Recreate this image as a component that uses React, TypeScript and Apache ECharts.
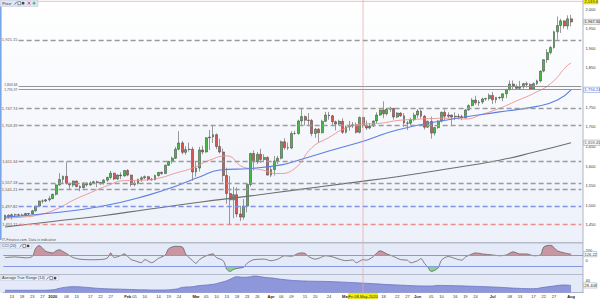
import React, { useEffect, useRef } from 'react';
import * as echarts from 'echarts';

const FONT = '"Liberation Sans", Arial, sans-serif';

// ---------- calendar (weekdays, market closed days removed) ----------
const closedDays = ['2019-12-25', '2020-01-01'];
const SLOT_COUNT = 170;
function buildCategories(): string[] {
  const out: string[] = [];
  const d = new Date(Date.UTC(2019, 11, 11));
  while (out.length < SLOT_COUNT) {
    const wd = d.getUTCDay();
    const s = d.toISOString().slice(0, 10);
    if (wd !== 0 && wd !== 6 && closedDays.indexOf(s) < 0) out.push(s);
    d.setUTCDate(d.getUTCDate() + 1);
  }
  return out;
}
const categories = buildCategories();

// ---------- daily candles [open, close, low, high] ----------
const dec2019 = [
  [1464, 1475, 1461, 1476], [1475, 1470, 1466, 1477], [1470, 1476, 1464, 1479], [1476, 1476, 1472, 1479],
  [1476, 1475, 1472, 1479], [1475, 1475, 1473, 1479], [1475, 1479, 1472, 1481], [1479, 1478, 1475, 1481],
  [1478, 1486, 1477, 1488], [1486, 1498, 1484, 1499], [1498, 1511, 1497, 1512], [1511, 1511, 1505, 1515],
  [1511, 1514, 1508, 1516], [1514, 1517, 1510, 1524],
];
const jan2020 = [
  [1517, 1528, 1516, 1530], [1528, 1552, 1525, 1554], [1552, 1566, 1550, 1582], [1566, 1574, 1557, 1576],
  [1574, 1556, 1553, 1611], [1556, 1552, 1540, 1557], [1552, 1562, 1547, 1563], [1562, 1548, 1546, 1563],
  [1548, 1545, 1536, 1551], [1545, 1557, 1543, 1559], [1557, 1552, 1548, 1558], [1552, 1557, 1550, 1561],
  [1557, 1560, 1555, 1563], [1560, 1558, 1546, 1563], [1558, 1557, 1552, 1560], [1557, 1564, 1553, 1567],
  [1564, 1571, 1560, 1573], [1571, 1582, 1566, 1588], [1582, 1567, 1564, 1583], [1567, 1577, 1565, 1579],
  [1577, 1575, 1567, 1584], [1575, 1589, 1573, 1590],
];
const feb2020 = [
  [1589, 1577, 1574, 1592], [1577, 1553, 1548, 1578], [1553, 1556, 1548, 1562], [1556, 1566, 1553, 1568],
  [1566, 1570, 1560, 1574], [1570, 1573, 1567, 1576], [1573, 1566, 1562, 1575], [1566, 1565, 1563, 1570],
  [1565, 1576, 1564, 1578], [1576, 1584, 1573, 1585], [1584, 1581, 1578, 1586], [1581, 1602, 1580, 1604],
  [1602, 1612, 1600, 1613], [1612, 1620, 1606, 1624], [1620, 1643, 1618, 1649], [1643, 1659, 1640, 1689],
  [1659, 1635, 1630, 1664], [1635, 1642, 1629, 1651], [1642, 1643, 1637, 1660], [1643, 1585, 1563, 1649],
];
const mar2020 = [
  [1585, 1595, 1573, 1611], [1595, 1641, 1586, 1649], [1641, 1636, 1630, 1652], [1636, 1672, 1634, 1674],
  [1672, 1674, 1641, 1692], [1674, 1680, 1659, 1703], [1680, 1650, 1643, 1683], [1650, 1636, 1632, 1670],
  [1636, 1576, 1560, 1645], [1576, 1530, 1504, 1596], [1530, 1514, 1451, 1575], [1514, 1527, 1467, 1547],
  [1527, 1478, 1470, 1546], [1478, 1470, 1460, 1499], [1470, 1498, 1464, 1516], [1498, 1553, 1482, 1555],
  [1553, 1632, 1548, 1634], [1632, 1611, 1589, 1640], [1611, 1630, 1605, 1636], [1630, 1617, 1608, 1644],
  [1617, 1622, 1611, 1630], [1622, 1577, 1576, 1625],
];
const apr2020 = [
  [1577, 1591, 1572, 1600], [1591, 1613, 1576, 1626], [1613, 1620, 1605, 1626], [1620, 1662, 1617, 1665],
  [1662, 1647, 1642, 1671], [1647, 1646, 1641, 1660], [1646, 1683, 1643, 1689], [1683, 1683, 1680, 1690],
  [1683, 1715, 1680, 1718], [1715, 1726, 1705, 1747], [1726, 1717, 1703, 1729], [1717, 1716, 1705, 1735],
  [1716, 1683, 1676, 1720], [1683, 1694, 1672, 1697], [1694, 1685, 1660, 1697], [1685, 1714, 1683, 1718],
  [1714, 1730, 1712, 1738], [1730, 1728, 1718, 1738], [1728, 1713, 1702, 1730], [1713, 1707, 1691, 1716],
  [1707, 1714, 1704, 1718], [1714, 1686, 1682, 1722],
];
const may2020 = [
  [1686, 1700, 1683, 1703], [1700, 1702, 1690, 1715], [1702, 1705, 1697, 1712], [1705, 1686, 1683, 1711],
  [1686, 1724, 1683, 1726], [1724, 1703, 1697, 1725], [1703, 1697, 1692, 1716], [1697, 1702, 1694, 1710],
  [1702, 1715, 1700, 1716], [1715, 1730, 1709, 1737], [1730, 1743, 1728, 1744], [1743, 1733, 1722, 1765],
  [1733, 1745, 1729, 1748], [1745, 1747, 1738, 1751], [1747, 1725, 1718, 1748], [1725, 1735, 1722, 1737],
  [1735, 1728, 1725, 1737], [1728, 1710, 1700, 1735], [1710, 1709, 1692, 1715], [1709, 1718, 1704, 1723],
  [1718, 1730, 1714, 1736],
];
const jun2020 = [
  [1730, 1740, 1723, 1745], [1740, 1727, 1722, 1744], [1727, 1699, 1693, 1730], [1699, 1714, 1698, 1716],
  [1714, 1684, 1670, 1726], [1684, 1698, 1678, 1700], [1698, 1715, 1695, 1717], [1715, 1737, 1711, 1739],
  [1737, 1727, 1717, 1744], [1727, 1730, 1722, 1737], [1730, 1725, 1705, 1731], [1725, 1727, 1717, 1737],
  [1727, 1726, 1719, 1733], [1726, 1723, 1717, 1731], [1723, 1743, 1721, 1745], [1743, 1754, 1741, 1757],
  [1754, 1768, 1752, 1773], [1768, 1761, 1756, 1779], [1761, 1763, 1753, 1768], [1763, 1771, 1758, 1774],
  [1771, 1772, 1766, 1774], [1772, 1780, 1767, 1785],
];
const jul2020 = [
  [1780, 1769, 1758, 1789], [1769, 1775, 1760, 1776], [1775, 1774, 1770, 1777], [1774, 1784, 1765, 1785],
  [1784, 1795, 1773, 1797], [1795, 1809, 1792, 1818], [1809, 1803, 1795, 1818], [1803, 1798, 1796, 1808],
  [1798, 1802, 1794, 1817], [1802, 1810, 1797, 1812], [1810, 1808, 1800, 1815], [1808, 1796, 1795, 1811],
  [1796, 1810, 1795, 1813], [1810, 1817, 1806, 1820], [1817, 1842, 1813, 1843], [1842, 1871, 1839, 1872],
  [1871, 1889, 1863, 1898], [1889, 1902, 1884, 1906], [1902, 1942, 1899, 1945], [1942, 1958, 1922, 1981],
  [1958, 1970, 1939, 1975], [1970, 1957, 1950, 1971], [1957, 1975, 1948, 1984],
];
const aug2020 = [[1975, 1967, 1956, 1985]];
const ohlc = [...dec2019, ...jan2020, ...feb2020, ...mar2020, ...apr2020, ...may2020, ...jun2020, ...jul2020, ...aug2020];

// ---------- moving averages [day index, value] ----------
const ma20Points = [
  [0, 1467], [5, 1470], [9, 1474], [15, 1490], [20, 1513], [25, 1532], [30, 1550], [35, 1563], [40, 1564],
  [45, 1569], [50, 1582], [55, 1595], [60, 1615], [65, 1626], [70, 1597], [75, 1591], [80, 1581], [85, 1594],
  [90, 1647], [95, 1673], [100, 1697], [105, 1707], [110, 1709], [115, 1716], [120, 1719], [125, 1721],
  [130, 1722], [135, 1720], [140, 1732], [145, 1747], [150, 1766], [155, 1785], [160, 1810], [165, 1857], [166, 1862],
];
const ma50Points = [
  [0, 1470], [13, 1480], [28, 1497], [42, 1526], [51, 1552], [57, 1572], [63, 1590], [72, 1594], [81, 1603],
  [86, 1615], [96, 1641], [106, 1666], [115, 1692], [130, 1718], [145, 1738], [156, 1752], [162, 1768], [166, 1794.24],
];
const ma200Points = [
  [0, 1445], [14, 1459], [28, 1473], [42, 1490], [57, 1508], [72, 1524], [86, 1540], [100, 1556], [115, 1573],
  [130, 1593], [145, 1615], [155, 1635], [166, 1659.45],
];

// ---------- CCI (20) [day index, value] ----------
const cciPoints = [
  [0, 60], [3, 72], [6, 55], [8, 80], [9, 240], [10, 290], [11, 240], [12, 180], [13, 160], [14, 150], [15, 190],
  [16, 212], [17, 175], [18, 140], [19, 95], [20, 60], [22, 28], [25, 18], [28, 22], [30, 50], [31, 150], [32, 62],
  [34, 100], [35, 130], [36, 80], [37, 20], [38, 0], [40, -38], [41, 20], [43, -38], [45, 45], [47, 110], [48, 230],
  [50, 277], [52, 264], [53, 130], [55, 0], [56, -50], [57, 20], [59, 95], [61, 130], [62, 60], [64, 0], [65, -162],
  [66, -207], [67, -170], [68, -150], [70, -125], [71, -50], [73, 20], [76, 30], [78, 0], [80, 30], [82, 95],
  [84, 85], [86, 140], [87, 150], [88, 140], [89, 80], [91, 30], [92, 45], [94, 95], [96, 75], [98, 30], [100, 0],
  [102, 15], [103, -40], [105, 20], [106, 10], [108, 80], [110, 190], [112, 130], [114, 80], [116, 20], [118, 10],
  [119, -40], [121, 0], [122, 40], [123, -50], [124, -125], [125, -207], [127, -140], [128, 10], [130, 80],
  [132, 40], [134, 10], [135, 70], [137, 130], [138, 150], [140, 130], [143, 110], [145, 95], [147, 110],
  [149, 170], [151, 130], [153, 130], [155, 95], [157, 110], [158, 264], [160, 296], [162, 190], [164, 150], [166, 126.22],
];

// ---------- Average True Range (14) [day index, value] ----------
const atrPoints = [
  [0, 17.5], [10, 17.5], [14, 18.5], [16, 22], [18, 24.5], [20, 25.6], [24, 24], [28, 21.5], [35, 19.7], [40, 18.5],
  [45, 18], [50, 20], [52, 24], [55, 25.6], [57, 28], [61, 31], [63, 34.6], [65, 39], [66, 42.3], [68, 48],
  [70, 46.8], [72, 48.2], [73, 49.7], [76, 46.8], [79, 44.5], [81, 42.3], [86, 39], [96, 36.9], [106, 33.2],
  [115, 29.4], [125, 27.1], [127, 28.5], [130, 28], [135, 27.1], [145, 24.2], [150, 22], [155, 21.1], [158, 24.2],
  [161, 27.1], [164, 29.4], [166, 28.408],
];

// ---------- horizontal levels ----------
const levelValues = [1921.15, 1803.68, 1795.97, 1747.74, 1703.39, 1611.34, 1557.18, 1541.21, 1497.82, 1451.11];
const levelKinds = ['grey', 'solid', 'solid', 'grey', 'grey', 'grey', 'grey', 'grey', 'blue', 'red'];
const levelLabelShift = [0, -1.3, 1.3, 0, 0, 0, 0, 0, 0, 0];

// ---------- x tick labels ----------
const xTickIdx = [2, 5, 8, 11, 14, 18, 21, 25, 28, 31, 36, 38, 41, 45, 48, 51, 56, 59, 62, 65, 68, 71, 74, 78, 81, 84, 88, 91, 95,
  100, 111, 115, 118, 121, 125, 128, 132, 135, 138, 143, 148, 151, 155, 158, 161, 166];
const xTickText = ['13', '18', '23', '27', '2020', '08', '13', '17', '22', '27', 'Feb', '05', '10', '14', '19', '24',
  'Mar', '05', '10', '13', '18', '23', '26', 'Apr', '06', '09', '15', '20', '24', 'May', '18', '22', '27',
  'Jun', '05', '10', '16', '19', '24', 'Jul', '08', '13', '17', '22', '27', 'Aug'];
const boldTicks = ['2020', 'Feb', 'Mar', 'Apr', 'May', 'Jun', 'Jul', 'Aug'];
const hiddenPriceTicks = [1400, 1800, 2050];

// ---------- right-axis readouts ----------
const crossIdx = 105;
const crossDateText = 'Fri 08-May-2020';
const crossPrice = 2019.6;
const lastPrice = 1967.3;
const ma50Last = 1794.24;
const ma200Last = 1659.45;
const cciLast = 126.22;
const atrLast = 28.408;

const R = 583;

export default function App() {
  const ref = useRef<HTMLDivElement>(null);
  useEffect(() => {
    const el = ref.current!;
    const chart = echarts.init(el, undefined, { renderer: 'svg' });
    const tickMap: Record<number, string> = {};
    xTickIdx.forEach((i, k) => { tickMap[i] = xTickText[k]; });

    const levelColor: Record<string, string> = { grey: '#9a9a9a', solid: '#8a8a8a', blue: '#8090e4', red: '#e89090' };
    const markData = levelValues.map((v, k) => {
      const kind = levelKinds[k];
      return [
        {
          coord: [4.3, v],
          lineStyle: { color: levelColor[kind], width: kind === 'solid' ? 0.9 : 1.3, type: kind === 'solid' ? 'solid' : [5, 3] },
          label: {
            show: true, position: 'start', distance: 1.2, formatter: v.toLocaleString('en-US', { minimumFractionDigits: 2 }),
            fontSize: kind === 'solid' ? 3.4 : 4, fontFamily: FONT, color: '#555', offset: [0, levelLabelShift[k]],
          },
        },
        { coord: [169, v] },
      ];
    });

    const grids = [
      { left: 3.3, right: 17, top: -10.6, height: 255.2 },
      { left: 3.3, right: 17, top: 242.7, height: 31.5 },
      { left: 3.3, right: 17, top: 275, height: 17.7 },
    ].map((g) => ({ ...g, containLabel: false, outerBoundsMode: 'none', show: false }));

    const hiddenX = (gi: number) => ({
      type: 'category', gridIndex: gi, data: categories, show: false, boundaryGap: true,
    });

    const yLabel = (show: (v: number) => string) => ({
      show: true, fontSize: 4, fontFamily: FONT, color: '#333', margin: 2.5, formatter: show, hideOverlap: false,
    });

    const option: any = {
      animation: false,
      grid: grids,
      xAxis: [
        hiddenX(0),
        hiddenX(1),
        {
          type: 'category', gridIndex: 2, data: categories, boundaryGap: true,
          axisLine: { show: true, lineStyle: { color: '#9aa3b5', width: 0.8 } },
          axisTick: { show: false },
          axisLabel: {
            interval: (i: number) => tickMap[i] !== undefined,
            formatter: (_v: string, i: number) => {
              const t = tickMap[i];
              if (t === undefined) return '';
              return boldTicks.indexOf(t) >= 0 ? '{b|' + t + '}' : t;
            },
            fontSize: 4, fontFamily: FONT, color: '#333', margin: 2,
            rich: { b: { fontSize: 4, fontFamily: FONT, fontWeight: 'bold', color: '#222' } },
          },
          splitLine: { show: false },
        },
      ],
      yAxis: [
        {
          type: 'value', gridIndex: 0, position: 'right', min: 1400, max: 2050, interval: 50,
          axisLine: { show: false }, axisTick: { show: false }, splitLine: { show: false },
          axisLabel: yLabel((v: number) => (hiddenPriceTicks.indexOf(v) >= 0 ? '' : v.toLocaleString('en-US'))),
        },
        {
          type: 'value', gridIndex: 1, position: 'right', min: -260, max: 346, interval: 20,
          axisLine: { show: false }, axisTick: { show: false }, splitLine: { show: false },
          axisLabel: yLabel((v: number) => (v === 200 || v === 0 ? String(v) : '')),
        },
        {
          type: 'value', gridIndex: 2, position: 'right', min: 12, max: 52, interval: 4,
          axisLine: { show: false }, axisTick: { show: false }, splitLine: { show: false },
          axisLabel: yLabel((v: number) => (v === 40 ? '40' : '')),
        },
      ],
      visualMap: [{
        type: 'piecewise', show: false, seriesIndex: 4, dimension: 1,
        pieces: [
          { lt: -100, color: '#7fcf7f' },
          { gte: -100, lte: 100, color: 'rgba(255,255,255,0)' },
          { gt: 100, color: '#c48d99' },
        ],
      }],
      series: [
        {
          type: 'candlestick', xAxisIndex: 0, yAxisIndex: 0, data: ohlc, barWidth: 2.4,
          itemStyle: { color: '#45b845', color0: '#d9534f', borderColor: '#3a3a3a', borderColor0: '#3a3a3a', borderWidth: 0.5 },
          markLine: { symbol: ['none', 'none'], silent: true, animation: false, data: markData },
        },
        {
          type: 'line', xAxisIndex: 0, yAxisIndex: 0, data: ma20Points, smooth: true, showSymbol: false,
          lineStyle: { color: '#ee9090', width: 0.9 },
        },
        {
          type: 'line', xAxisIndex: 0, yAxisIndex: 0, data: ma50Points, smooth: true, showSymbol: false,
          lineStyle: { color: '#5d7ee6', width: 1.1 },
        },
        {
          type: 'line', xAxisIndex: 0, yAxisIndex: 0, data: ma200Points, smooth: true, showSymbol: false,
          lineStyle: { color: '#6e6e6e', width: 1.1 },
        },
        {
          type: 'line', xAxisIndex: 1, yAxisIndex: 1, data: cciPoints, smooth: 0.3, showSymbol: false,
          lineStyle: { width: 0 }, areaStyle: { opacity: 0.9 },
        },
        {
          type: 'line', xAxisIndex: 1, yAxisIndex: 1, data: cciPoints, smooth: 0.3, showSymbol: false,
          lineStyle: { color: '#666', width: 0.8 },
          markLine: {
            symbol: ['none', 'none'], silent: true, animation: false, label: { show: false },
            lineStyle: { color: '#8796e2', width: 1, type: 'solid' },
            data: [{ yAxis: 100 }, { yAxis: -100 }],
          },
        },
        {
          type: 'line', xAxisIndex: 2, yAxisIndex: 2, data: atrPoints, smooth: true, showSymbol: false,
          lineStyle: { color: '#6a73c4', width: 0.8 },
          areaStyle: { color: '#8e97d9', opacity: 1, origin: 'start' },
        },
      ],
    };
    chart.setOption(option);

    const xPix = (i: number) => chart.convertToPixel({ xAxisIndex: 0 }, categories[i]) as number;
    const yPix = (gi: number, v: number) => chart.convertToPixel({ yAxisIndex: gi }, v) as number;

    const g: any[] = [];
    const line = (x1: number, y1: number, x2: number, y2: number, color: string, w: number, z = 30) =>
      g.push({ type: 'line', z, silent: true, shape: { x1, y1, x2, y2 }, style: { stroke: color, lineWidth: w } });
    const rect = (x: number, y: number, w: number, h: number, fill: any, stroke?: string, z = -10) =>
      g.push({ type: 'rect', z, silent: true, shape: { x, y, width: w, height: h }, style: { fill, stroke: stroke || 'none', lineWidth: 0.5 } });
    const text = (x: number, y: number, t: string, color: string, size = 4, align = 'left', z = 101, weight = 'normal') =>
      g.push({
        type: 'text', z, silent: true, x, y,
        style: { text: t, fill: color, fontSize: size, fontFamily: FONT, fontWeight: weight, align, verticalAlign: 'middle', textAlign: align, textVerticalAlign: 'middle' },
      });
    const box = (yc: number, t: string, bg: string, border: string, color: string, w: number) => {
      rect(R + 0.8, yc - 2.6, w, 5.2, bg, border, 100);
      text(R + 1.6, yc + 0.1, t, color, 4, 'left', 101);
    };

    // panel backgrounds
    rect(0, 0, R, 237, new echarts.graphic.LinearGradient(0, 0, 0, 1, [
      { offset: 0, color: '#ffffff' }, { offset: 1, color: '#edf1fa' },
    ]));
    rect(0, 237, R, 5.7, '#eef1f8');
    rect(0, 242.7, R, 31.8, '#e4eaf7');
    rect(0, 274.5, R, 18.2, '#e4eaf7');
    // separators and frame
    line(0, 242.7, R, 242.7, '#b4bccb', 1.4, 5);
    line(0, 274.5, R, 274.5, '#b4bccb', 1, 5);
    line(R, 0, R, 292.7, '#9aa3b5', 0.8, 5);
    rect(0, 0, 1.6, 240, '#79a6e6', undefined, 60);

    // crosshair
    const xc = xPix(crossIdx);
    const yc = yPix(0, crossPrice);
    line(xc, 0, xc, 293, '#f0a4a4', 0.7, 40);
    line(0, yc, R, yc, '#f0a4a4', 0.7, 40);

    // headers
    rect(0, 0, 38, 6.4, '#dde6f5', '#b7c3da', 60);
    text(2.2, 3.3, 'Price', '#333', 4, 'left', 61);
    const icons = (x0: number, yMid: number) => {
      g.push({ type: 'line', z: 61, silent: true, shape: { x1: x0, y1: yMid + 1.4, x2: x0 + 2.4, y2: yMid - 1.4 }, style: { stroke: '#555', lineWidth: 0.7 } });
      rect(x0 + 3.4, yMid - 1.5, 2.8, 3, '#ffffff', '#333', 61);
      g.push({ type: 'circle', z: 61, silent: true, shape: { cx: x0 + 8.6, cy: yMid, r: 1.4 }, style: { fill: '#444' } });
    };
    icons(14.5, 3.2);
    line(27.8, 1.8, 30.2, 4.6, '#d33', 0.8, 61);
    line(30.2, 1.8, 27.8, 4.6, '#d33', 0.8, 61);
    line(32.6, 3.2, 35.6, 3.2, '#2a2', 0.9, 61);
    line(34.1, 1.7, 34.1, 4.7, '#2a2', 0.9, 61);

    text(2, 239.6, 'IT-Finance.com. Data is indicative', '#555', 3.6, 'left', 61);
    rect(0.8, 243.6, 31, 4.6, '#eef2fb', '#b7c3da', 60);
    text(2, 245.95, 'CCI (20)', '#333', 3.8, 'left', 61);
    icons(19.5, 245.9);
    rect(0.8, 275.8, 58, 4.6, '#eef2fb', '#b7c3da', 60);
    text(2, 278.15, 'Average True Range (14)', '#333', 3.8, 'left', 61);
    icons(46.5, 278.1);

    // right-axis readouts
    box(yc, crossPrice.toLocaleString('en-US', { minimumFractionDigits: 1 }), '#f4f400', '#c8c800', '#222', 14);
    box(yPix(0, lastPrice), lastPrice.toLocaleString('en-US', { minimumFractionDigits: 2 }), '#ececec', '#999', '#222', 16.2);
    box(yPix(0, ma50Last), ma50Last.toLocaleString('en-US', { minimumFractionDigits: 2 }), '#ffffff', '#5d7ee6', '#2f54c8', 16.2);
    box(yPix(0, ma200Last), ma200Last.toLocaleString('en-US', { minimumFractionDigits: 2 }), '#ffffff', '#888', '#444', 16.2);
    box(yPix(1, cciLast), String(cciLast), '#ffffff', '#999', '#333', 13);
    box(yPix(2, atrLast), String(atrLast), '#ffffff', '#999', '#333', 13);

    // date readout
    rect(xc - 14.5, 293.4, 29, 5.2, '#f4f400', '#c8c800', 100);
    text(xc, 296.1, crossDateText, '#222', 4, 'center', 101);

    chart.setOption({ graphic: { elements: g } });
    return () => chart.dispose();
  }, []);

  return <div ref={ref} style={{ position: 'absolute', left: 0, top: 0, width: 600, height: 300 }} />;
}
